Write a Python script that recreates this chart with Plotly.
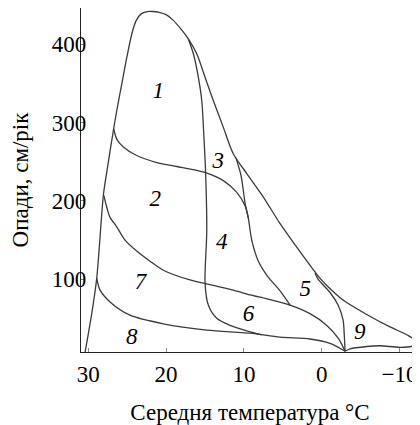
import plotly.graph_objects as go

# Envelope (outer boundary), temperature (°C) and precipitation (cm/yr)
envelope_t = [30.4, 29.55, 28.91, 28.06, 27.65, 26.77, 26.34, 25.70, 25.05, 24.41, 23.86, 23.21,
              22.44, 21.67, 20.90, 20.0, 19.10, 18.2, 17.14, 16.06, 14.99, 13.92, 12.64, 11.35,
              9.63, 7.50, 5.35, 3.21, 1.07, 0.21, -0.65, -2.78, -5.95, -8.78, -10.93, -12.21,
              -11.78, -10.07, -7.50, -5.79, -3.64, -3.0]
envelope_p = [7, 56, 101, 207, 235, 290, 315, 349, 383, 413, 430, 439,
              442, 442, 441, 438, 431, 421, 407, 388, 358, 328, 294, 260,
              235, 205, 171, 141, 112, 101, 92, 73, 54, 39, 29, 20,
              15, 13, 15, 14, 11, 8]

# Boundary between 1/3 and 2/4, 4/6
lineA_t = [17.14, 16.49, 15.85, 15.41, 15.18, 14.93, 14.77, 14.99, 14.57, 13.49, 11.78, 9.63, 7.7]
lineA_p = [407, 388, 358, 328, 290, 239, 162, 95, 67, 50, 41, 34, 29]

# Boundary 3/4 – 5
lineC_t = [11.01, 10.37, 10.07, 9.85, 9.43, 8.99, 8.14, 6.90, 5.35, 4.07]
lineC_p = [255, 232.5, 213, 197, 178, 150, 123, 103, 85, 67]

# Upper boundary of zone 2
curve2_t = [26.72, 26.34, 25.49, 23.77, 21.20, 18.63, 16.06, 14.57, 12.64, 10.92, 9.85, 9.43]
curve2_p = [292, 279, 269, 258, 249, 244, 239, 235, 226, 211, 194, 178]

# Upper boundary of zone 7
curve7_t = [28.0, 27.62, 27.2, 26.34, 25.27, 23.77, 22.06, 20.35, 16.92, 13.92, 11.35, 9.21,
            7.06, 4.07, 1.50, -0.65, -2.14, -3.0]
curve7_p = [207, 192, 179, 167, 150, 136, 123, 111.5, 99, 92, 86, 80,
            75, 67, 56, 41, 24.5, 8]

# Upper boundary of zone 8
curve8_t = [28.91, 28.48, 27.2, 24.63, 20.35, 14.77, 9.21, 5.35, 1.5, -1.07, -3.0]
curve8_p = [101, 86, 71, 54, 43, 35, 31, 26, 23.6, 18, 8]

# Boundary 5/9
line59_t = [0.86, 0.47, -1.07, -2.10, -2.74, -2.91, -3.0]
line59_p = [108, 100, 83, 67, 48, 27, 8]

# Zone labels
zone_labels = ["1", "2", "3", "4", "5", "6", "7", "8", "9"]
zone_t = [21.0, 21.4, 13.3, 12.85, 2.1, 9.4, 23.3, 24.4, -4.9]
zone_p = [339, 201, 249, 146, 86, 54, 94.5, 24.5, 31]

x_ticks = [30, 20, 10, 0, -10]
y_ticks = [100, 200, 300, 400]

LINE_COLOR = "#3a3a3a"
FONT = "Liberation Serif, Times New Roman, Times, serif"

fig = go.Figure()
for xs, ys in [(envelope_t, envelope_p), (lineA_t, lineA_p), (lineC_t, lineC_p),
               (curve2_t, curve2_p), (curve7_t, curve7_p), (curve8_t, curve8_p),
               (line59_t, line59_p)]:
    fig.add_trace(go.Scatter(x=xs, y=ys, mode="lines",
                             line=dict(color=LINE_COLOR, width=1.3, shape="spline", smoothing=0.8),
                             hoverinfo="skip", showlegend=False))

fig.add_trace(go.Scatter(x=zone_t, y=zone_p, mode="text", text=zone_labels,
                         textfont=dict(family=FONT, size=23, color="black", style="italic"),
                         textposition="middle center", showlegend=False, hoverinfo="skip"))

fig.update_layout(
    width=412, height=417,
    margin=dict(l=73, r=1, t=0, b=73),
    paper_bgcolor="white", plot_bgcolor="white",
    font=dict(family=FONT, size=23, color="black"),
    showlegend=False,
)
fig.update_xaxes(
    range=[30.93, -12.5], tickvals=x_ticks, ticks="inside", ticklen=4, tickcolor="#888",
    showline=True, linecolor="#222", linewidth=1.3, showgrid=False, zeroline=False,
    tickfont=dict(family=FONT, size=23), ticklabelstandoff=1,
    title=dict(text="Середня температура °C", font=dict(family=FONT, size=23), standoff=20),
    automargin=False,
)
fig.update_yaxes(
    range=[7, 446.5], tickvals=y_ticks, ticks="inside", ticklen=4, tickcolor="#888",
    showline=True, linecolor="#222", linewidth=1.3, showgrid=False, zeroline=False,
    tickfont=dict(family=FONT, size=23), ticklabelstandoff=-11,
    title=dict(text="Опади, см/рік", font=dict(family=FONT, size=23), standoff=32),
    automargin=False,
)

fig.write_html("out.html")
